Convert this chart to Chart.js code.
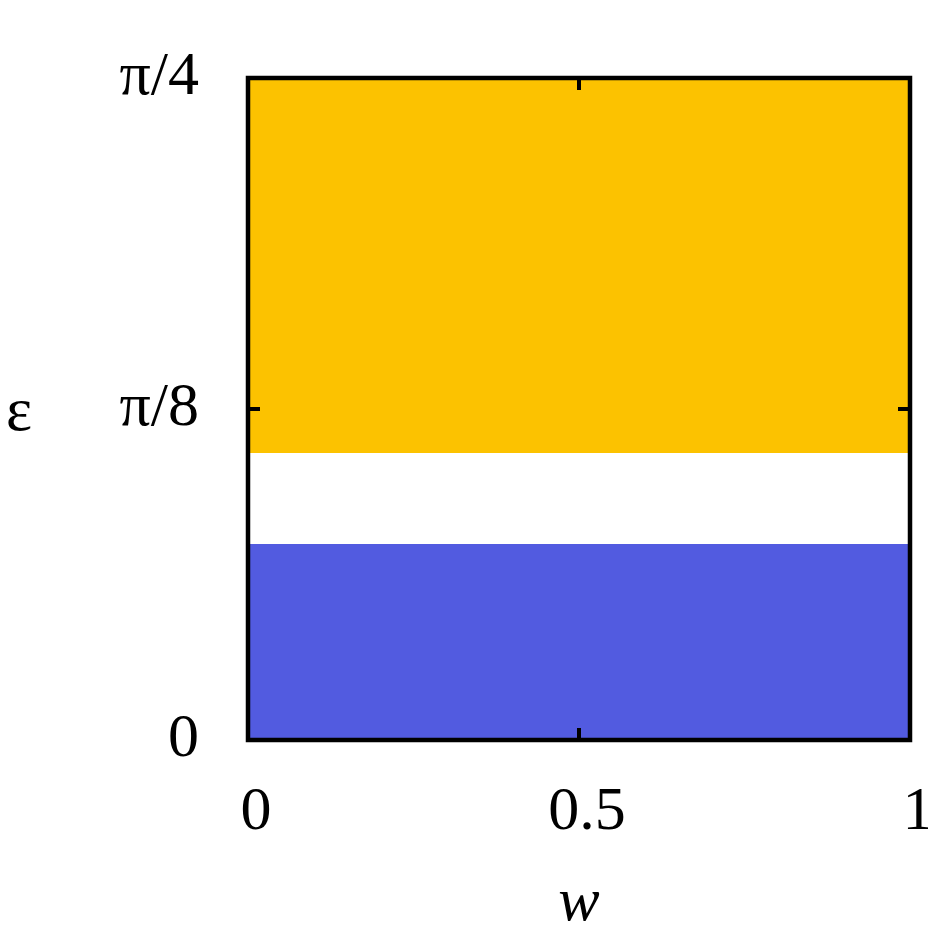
<!DOCTYPE html>
<html lang="en">
<head>
    <meta charset="UTF-8">
    <title>Phase diagram</title>
    <script src="https://cdn.jsdelivr.net/npm/chart.js@4.4.1/dist/chart.umd.min.js"></script>
    <style>
        body { margin: 0; background: #fff; }
    </style>
</head>
<body>
    <canvas id="phaseChart" width="928" height="947"></canvas>

<script>
    // data
    const wValues = [0, 1];
    const blueUpper = [0.2325, 0.2325];
    const orangeLower = [0.3405, 0.3405];
    const orangeUpper = [Math.PI / 4, Math.PI / 4];

    const xTickValues = [0, 0.5, 1];
    const xTickLabels = ["0", "0.5", "1"];
    const yTickValues = [0, Math.PI / 8, Math.PI / 4];
    const yTickLabels = ["0", "π/8", "π/4"];

    const serif = "'Liberation Serif', 'DejaVu Serif', serif";

    function band(values) {
        return wValues.map((w, i) => ({ x: w, y: values[i] }));
    }

    // box round the plot with inward ticks, plus the upright epsilon label
    const framePlugin = {
        id: "frame",
        afterDraw(chart) {
            const ctx = chart.ctx;
            const a = chart.chartArea;
            const xs = chart.scales.x, ys = chart.scales.y;
            ctx.save();
            ctx.strokeStyle = "#000";
            ctx.lineWidth = 4;
            ctx.beginPath();
            xTickValues.forEach(v => {
                const px = xs.getPixelForValue(v);
                ctx.moveTo(px, a.bottom); ctx.lineTo(px, a.bottom - 12);
                ctx.moveTo(px, a.top); ctx.lineTo(px, a.top + 12);
            });
            yTickValues.forEach(v => {
                const py = ys.getPixelForValue(v);
                ctx.moveTo(a.left, py); ctx.lineTo(a.left + 12, py);
                ctx.moveTo(a.right, py); ctx.lineTo(a.right - 12, py);
            });
            ctx.stroke();
            ctx.lineWidth = 4.5;
            ctx.strokeRect(a.left, a.top, a.right - a.left, a.bottom - a.top);

            ctx.fillStyle = "#000";
            ctx.font = "62px " + serif;
            ctx.textAlign = "center";
            ctx.textBaseline = "alphabetic";
            ctx.fillText("ε", 19, ys.getPixelForValue(Math.PI / 8) + 21);
            ctx.restore();
        }
    };

    new Chart(document.getElementById("phaseChart"), {
        type: "scatter",
        data: {
            datasets: [
                {
                    data: band(blueUpper),
                    showLine: true,
                    fill: "origin",
                    backgroundColor: "#525be0",
                    borderWidth: 0,
                    pointRadius: 0
                },
                {
                    data: band(orangeLower),
                    showLine: true,
                    fill: false,
                    borderWidth: 0,
                    pointRadius: 0
                },
                {
                    data: band(orangeUpper),
                    showLine: true,
                    fill: "-1",
                    backgroundColor: "#fcc200",
                    borderWidth: 0,
                    pointRadius: 0
                }
            ]
        },
        options: {
            responsive: false,
            animation: false,
            layout: { padding: { top: 78, right: 18, left: 0, bottom: 0 } },
            plugins: {
                legend: { display: false },
                tooltip: { enabled: false }
            },
            scales: {
                x: {
                    type: "linear",
                    min: 0,
                    max: 1,
                    afterBuildTicks: s => { s.ticks = xTickValues.map(v => ({ value: v })); },
                    afterFit: s => {
                        s.height = 207;
                        s.paddingLeft = 0;
                        s.paddingRight = 0;
                    },
                    grid: { display: false },
                    border: { display: false },
                    ticks: {
                        color: "#000",
                        font: { family: serif, size: 62 },
                        padding: 28,
                        labelOffset: 8,
                        maxRotation: 0,
                        callback: (v, i) => xTickLabels[i]
                    },
                    title: {
                        display: true,
                        text: "w",
                        color: "#000",
                        font: { family: serif, size: 62, style: "italic" },
                        padding: { top: 0, bottom: 6 }
                    }
                },
                y: {
                    min: 0,
                    max: Math.PI / 4,
                    afterBuildTicks: s => { s.ticks = yTickValues.map(v => ({ value: v })); },
                    afterFit: s => {
                        s.width = 248;
                        s.paddingTop = 0;
                        s.paddingBottom = 0;
                    },
                    grid: { display: false },
                    border: { display: false },
                    ticks: {
                        color: "#000",
                        font: { family: serif, size: 62 },
                        padding: 41,
                        callback: (v, i) => yTickLabels[i]
                    }
                }
            }
        },
        plugins: [framePlugin]
    });
</script>
</body>
</html>
